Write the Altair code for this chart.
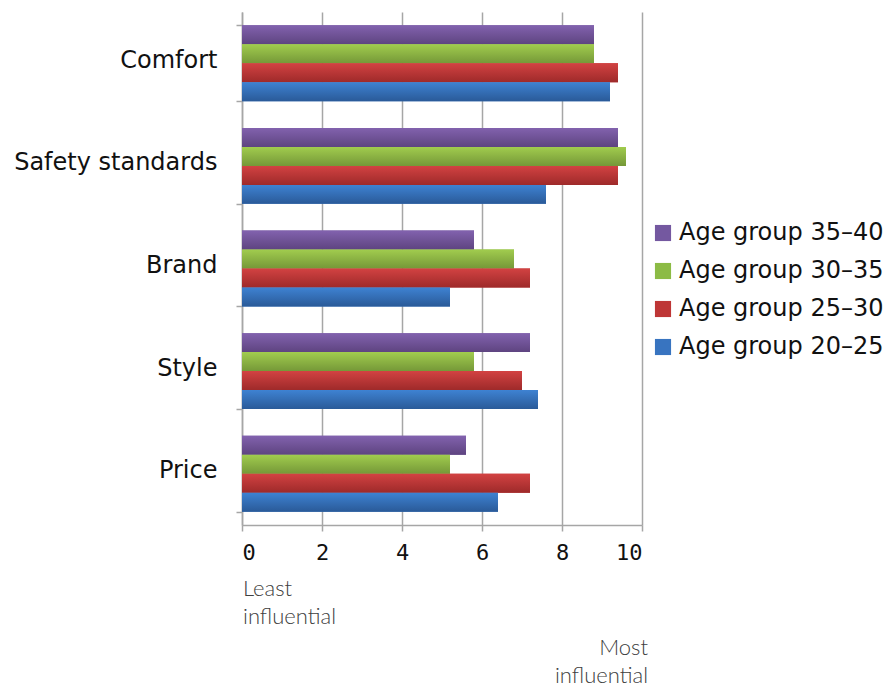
import altair as alt
import pandas as pd

categories = ["Comfort", "Safety standards", "Brand", "Style", "Price"]
groups = ["Age group 35\u201340", "Age group 30\u201335", "Age group 25\u201330", "Age group 20\u201325"]
vals_35_40 = [8.8, 9.4, 5.8, 7.2, 5.6]
vals_30_35 = [8.8, 9.6, 6.8, 5.8, 5.2]
vals_25_30 = [9.4, 9.4, 7.2, 7.0, 7.2]
vals_20_25 = [9.2, 7.6, 5.2, 7.4, 6.4]
x_ticks = [0, 2, 4, 6, 8, 10]
colors = ["#7458A0", "#8CBB45", "#BE3636", "#3874C0"]
grad_top = ["#8262AE", "#A1CC4E", "#D24242", "#3E82D2"]
grad_bot = ["#5E4480", "#759838", "#9E2A2A", "#2A5A98"]
note_least = ["Least", "influential"]
note_most = ["Most", "influential"]

series = [vals_35_40, vals_30_35, vals_25_30, vals_20_25]
rows = []
for g, vals in zip(groups, series):
    for c, v in zip(categories, vals):
        rows.append({"category": c, "group": g, "value": v})
df = pd.DataFrame(rows)

W, H = 400, 513

y_enc = alt.Y("category:N", sort=categories, title=None,
              scale=alt.Scale(paddingInner=0.26, paddingOuter=0.13),
              axis=alt.Axis(tickBand="extent", tickSize=6, labelPadding=19,
                            labelFontSize=24, labelFont="DejaVu Sans", labelColor="#111111",
                            labelFontWeight="normal", labelLimit=300, labelOffset=-3,
                            domainColor="#a6a6a6", domainWidth=1.5, tickColor="#a6a6a6",
                            tickWidth=1.5, grid=False))
yoff_enc = alt.YOffset("group:N", sort=groups, scale=alt.Scale(domain=groups, paddingInner=0, paddingOuter=0))
x_enc = alt.X("value:Q", title=None,
              scale=alt.Scale(domain=[0, 10], nice=False),
              axis=alt.Axis(values=x_ticks, tickSize=6, labelPadding=11, labelFontSize=22,
                            labelFont="DejaVu Sans Mono", labelColor="#111111",
                            domainColor="#a6a6a6", domainWidth=1.5, tickColor="#a6a6a6",
                            tickWidth=1.5, grid=True, gridColor="#a6a6a6", gridWidth=1.5))

base = alt.Chart(df).mark_bar().encode(
    y=y_enc, yOffset=yoff_enc, x=x_enc,
    color=alt.Color("group:N", sort=groups,
                    scale=alt.Scale(domain=groups, range=colors),
                    legend=alt.Legend(title=None, orient="none", legendX=409, legendY=209,
                                      labelFontSize=24, labelFont="DejaVu Sans", labelColor="#111111",
                                      symbolType="square", symbolSize=260, symbolStrokeWidth=0,
                                      rowPadding=14, labelOffset=4, labelLimit=300)),
)

layers = [base]
for g, t, b in zip(groups, grad_top, grad_bot):
    layers.append(
        alt.Chart(df).transform_filter(alt.datum.group == g).mark_bar(
            color=alt.Gradient(gradient="linear",
                               stops=[alt.GradientStop(color=t, offset=0),
                                      alt.GradientStop(color=b, offset=1)],
                               x1=0, x2=0, y1=0, y2=1)
        ).encode(y=y_enc, yOffset=yoff_enc, x=x_enc)
    )

notes = pd.DataFrame({"least": ["\n".join(note_least)], "most": ["\n".join(note_most)]})
least = alt.Chart(notes).mark_text(align="left", baseline="top", fontSize=22, font="Lato",
                                   fontWeight=300, color="#404040", lineBreak="\n",
                                   lineHeight=28).encode(
    x=alt.value(1), y=alt.value(567), text="least:N")
most = alt.Chart(notes).mark_text(align="right", baseline="top", fontSize=22, font="Lato",
                                  fontWeight=300, color="#404040", lineBreak="\n",
                                  lineHeight=28).encode(
    x=alt.value(406), y=alt.value(626), text="most:N")

chart = alt.layer(*layers, least, most).properties(
    width=W, height=H,
    autosize=alt.AutoSizeParams(type="none"),
    padding={"left": 242, "top": 12, "right": 250, "bottom": 162},
).configure_view(stroke=None)

chart.save("out.html", embed_options={"renderer": "svg", "actions": False})
